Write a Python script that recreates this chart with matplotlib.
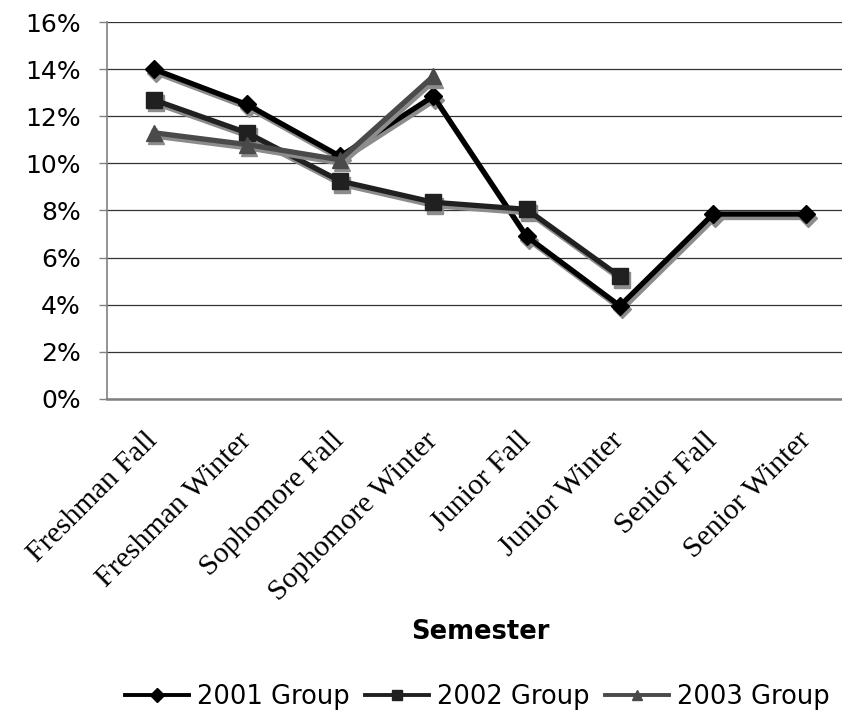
import numpy as np
import matplotlib.pyplot as plt
import matplotlib.transforms as mtransforms
from matplotlib.ticker import FuncFormatter, MultipleLocator

semesters = ['Freshman Fall', 'Freshman Winter', 'Sophomore Fall', 'Sophomore Winter',
             'Junior Fall', 'Junior Winter', 'Senior Fall', 'Senior Winter']

g2001 = [14.0, 12.5, 10.3, 12.85, 6.9, 3.95, 7.85, 7.85]
g2002 = [12.7, 11.3, 9.25, 8.35, 8.05, 5.2]
g2003 = [11.3, 10.8, 10.15, 13.7]

series = [
    ('2001 Group', g2001, '#000000', 'D', 9.5),
    ('2002 Group', g2002, '#202020', 's', 11),
    ('2003 Group', g2003, '#4a4a4a', '^', 11),
]

fig = plt.figure(figsize=(8.42, 7.15), dpi=100)
# plot area runs a little past the right edge of the figure
ax = fig.add_axes([107 / 842, 1 - 399 / 715, 746 / 842, 377 / 715])

# drop shadow: same line in grey, nudged right and down
shift = mtransforms.ScaledTranslation(0.02, -0.035, fig.dpi_scale_trans)

x = np.arange(len(semesters))
for i, (name, vals, col, mk, ms) in enumerate(series):
    xs = x[:len(vals)]
    ax.plot(xs, vals, color='#8c8c8c', lw=3.8, marker=mk, ms=ms, mec='#8c8c8c',
            transform=ax.transData + shift, zorder=2 + 2 * i)
    ax.plot(xs, vals, color=col, lw=3.8, marker=mk, ms=ms,
            mfc=col, mec=col, label=name, zorder=3 + 2 * i)

ax.set_xlim(-0.5, len(semesters) - 0.5)
ax.set_ylim(0, 16)
ax.yaxis.set_major_locator(MultipleLocator(2))
ax.yaxis.set_major_formatter(FuncFormatter(lambda v, p: f'{v:.0f}%'))
ax.grid(axis='y', color='#333333', lw=0.9)
ax.set_axisbelow(True)

for s in ['top', 'right']:
    ax.spines[s].set_visible(False)
ax.spines['left'].set_color('#808080')
ax.spines['left'].set_linewidth(1.2)
ax.spines['bottom'].set_color('#808080')
ax.spines['bottom'].set_linewidth(1.8)

ax.tick_params(axis='y', length=6, width=1, color='#808080', labelsize=18, pad=13)
ax.tick_params(axis='x', length=0, pad=27)
ax.set_xticks(x)
ax.set_xticklabels(semesters, rotation=45, ha='right', va='center',
                   rotation_mode='anchor', fontfamily='Liberation Serif', fontsize=21.5)

fig.text(480 / 842, 1 - 632 / 715, 'Semester', ha='center', va='center',
         fontsize=18.5, fontweight='bold')

leg = fig.legend(loc='center', bbox_to_anchor=(477 / 842, 1 - 697 / 715), ncol=3,
                 frameon=False, fontsize=18.5, handlelength=2.5, handletextpad=0.3,
                 columnspacing=0.6, markerscale=0.7, borderpad=0)
for h in leg.legend_handles:
    h.set_linewidth(2.8)

fig.savefig('out.png', dpi=100)
